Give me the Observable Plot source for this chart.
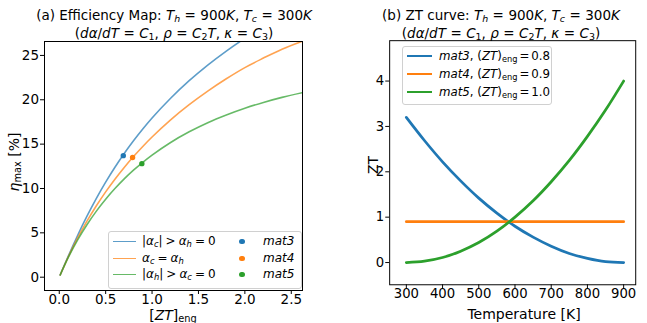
<!DOCTYPE html>
<html><head><meta charset="utf-8">
<script src="https://cdn.jsdelivr.net/npm/d3@7"></script>
<script src="https://cdn.jsdelivr.net/npm/@observablehq/plot@0.6"></script>
<style>
body{margin:0;background:#fff;}
#wrap{position:relative;width:647px;height:323px;overflow:hidden;font-family:"DejaVu Sans",sans-serif;color:#000;}
#wrap svg{position:absolute;left:0;top:0;}
.t{position:absolute;white-space:nowrap;font-size:13.5px;line-height:14px;}
.lab{font-size:14px;}
.c{transform:translateX(-50%);}
.rot{transform:translate(-50%,-50%) rotate(-90deg);}
.s{font-size:70%;vertical-align:-0.25em;line-height:0;}
.leg{position:absolute;border:1px solid #d0d0d0;border-radius:3px;background:rgba(255,255,255,0.8);font-size:12px;}
.row{position:absolute;white-space:nowrap;line-height:14px;}
.sw{position:absolute;height:0;}
.dt{position:absolute;width:5.4px;height:5.4px;border-radius:50%;}
</style>
</head><body>
<div id="wrap"></div>
<script>
// ---- Panel (a): efficiency map ----
const ztEng = [0.01,0.1,0.2,0.3,0.4,0.5,0.6,0.7,0.8,0.9,1.0,1.2,1.4,1.6,1.8,2.0,2.2,2.4,2.62];
const etaBlue = [0.25,2.45,4.76,6.90,8.88,10.71,12.39,13.94,15.37,16.70,17.94,20.17,22.15,23.91,25.49,26.93,28.25,29.46,30.70];
const etaOrange = [0.25,2.35,4.45,6.34,8.05,9.62,11.05,12.37,13.60,14.74,15.80,17.74,19.45,20.98,22.37,23.63,24.70,25.70,26.60];
const etaGreen = [0.25,2.28,4.23,5.94,7.45,8.79,9.99,11.08,12.06,12.95,13.76,15.19,16.39,17.42,18.29,19.05,19.70,20.27,20.80];
const caseNames = ["blue","orange","green"];
const matNames = ["mat3","mat4","mat5"];
const matZT = [0.69,0.79,0.89];
const matEta = [13.7,13.5,12.8];
const xTicksA = [0,0.5,1,1.5,2,2.5];
const yTicksA = [0,5,10,15,20,25];

// ---- Panel (b): ZT curves ----
const temps = [300,350,400,450,500,550,600,650,700,750,800,850,900];
const zt3 = [3.20,2.69,2.22,1.80,1.42,1.09,0.80,0.56,0.36,0.20,0.09,0.02,0.00];
const zt4 = [0.9,0.9,0.9,0.9,0.9,0.9,0.9,0.9,0.9,0.9,0.9,0.9,0.9];
const zt5 = [0.00,0.03,0.11,0.25,0.44,0.69,1.00,1.36,1.78,2.25,2.78,3.36,4.00];
const xTicksB = [300,400,500,600,700,800,900];
const yTicksB = [0,1,2,3,4];

const colors = ["#1f77b4","#ff7f0e","#2ca02c"];

const lineA = [];
[etaBlue, etaOrange, etaGreen].forEach((arr, k) => arr.forEach((v, i) => lineA.push({x: ztEng[i], y: v, k})));
const dotsA = matNames.map((m, i) => ({x: matZT[i], y: matEta[i], k: i}));
const lineB = [];
[zt3, zt4, zt5].forEach((arr, k) => arr.forEach((v, i) => lineB.push({x: temps[i], y: v, k})));

const st = {fontFamily: "DejaVu Sans", fontSize: "13.5px", background: "transparent", overflow: "visible", color: "#000"};

const plotA = Plot.plot({
  width: 647, height: 323,
  marginLeft: 44, marginRight: 345, marginTop: 41, marginBottom: 33,
  style: st,
  x: {domain: [-0.159, 2.621]},
  y: {domain: [-1.5, 26.57]},
  marks: [
    Plot.line(lineA, {x: "x", y: "y", z: "k", stroke: d => colors[d.k], strokeWidth: 1.6, strokeOpacity: 0.72, curve: "monotone-x", clip: true}),
    Plot.dot(dotsA, {x: "x", y: "y", fill: d => colors[d.k], r: 2.7, stroke: "none"}),
    Plot.frame({stroke: "#000", strokeWidth: 1}),
    Plot.axisX({ticks: xTicksA, tickFormat: d3.format(".1f"), tickSize: 4, tickPadding: 0, label: null}),
    Plot.axisY({ticks: yTicksA, tickFormat: d3.format("d"), tickSize: 4, tickPadding: 1.5, label: null})
  ]
});

const plotB = Plot.plot({
  width: 660, height: 323,
  marginLeft: 397, marginRight: 12, marginTop: 41, marginBottom: 33,
  style: st,
  x: {domain: [254, 933.3]},
  y: {domain: [-0.49, 4.89]},
  marks: [
    Plot.line(lineB, {x: "x", y: "y", z: "k", stroke: d => colors[d.k], strokeWidth: 2.8, curve: "monotone-x"}),
    Plot.frame({stroke: "#000", strokeWidth: 1}),
    Plot.axisX({ticks: xTicksB, tickFormat: d3.format("d"), tickSize: 4, tickPadding: 0, label: null}),
    Plot.axisY({ticks: yTicksB, tickFormat: d3.format("d"), tickSize: 4, tickPadding: 1.5, label: null})
  ]
});

const wrap = document.getElementById("wrap");
wrap.appendChild(plotA);
wrap.appendChild(plotB);

function addText(html, cls, x, y) {
  const d = document.createElement("div");
  d.className = "t " + cls;
  d.style.left = x + "px"; d.style.top = y + "px";
  d.innerHTML = html;
  wrap.appendChild(d);
  return d;
}
const sub = s => `<span class="s">${s}</span>`;
const subI = s => `<span class="s"><i>${s}</i></span>`;
const eq = "&#8196;=&#8196;";

addText(`(a) Efficiency Map: <i>T</i>${subI("h")}${eq}900<i>K</i>, <i>T</i>${subI("c")}${eq}300<i>K</i>`, "c", 174, 8);
addText(`(<i>dα</i>/<i>dT</i>${eq}<i>C</i>${sub("1")}, <i>ρ</i>${eq}<i>C</i>${sub("2")}<i>T</i>, <i>κ</i>${eq}<i>C</i>${sub("3")})`, "c", 174, 25.5);
addText(`(b) ZT curve: <i>T</i>${subI("h")}${eq}900<i>K</i>, <i>T</i>${subI("c")}${eq}300<i>K</i>`, "c", 501, 8);
addText(`(<i>dα</i>/<i>dT</i>${eq}<i>C</i>${sub("1")}, <i>ρ</i>${eq}<i>C</i>${sub("2")}<i>T</i>, <i>κ</i>${eq}<i>C</i>${sub("3")})`, "c", 501, 25.5);

addText(`[<i>ZT</i>]${sub("eng")}`, "c lab", 173, 307.5);
addText(`Temperature [K]`, "c lab", 524, 306.5);
addText(`<i>η</i>${sub("max")} [%]`, "rot lab", 14, 162);
addText(`ZT`, "rot lab", 372.5, 165);

// legends
function legend(x, y, w, h) {
  const d = document.createElement("div");
  d.className = "leg";
  d.style.left = x + "px"; d.style.top = y + "px";
  d.style.width = w + "px"; d.style.height = h + "px";
  wrap.appendChild(d);
  return d;
}
const eqL = "&#8197;=&#8197;";
const legA = legend(108, 231, 192, 56);
const labA = [`|<i>α</i>${subI("c")}|&#8197;&gt;&#8197;<i>α</i>${subI("h")}${eqL}0`, `<i>α</i>${subI("c")}${eqL}<i>α</i>${subI("h")}`, `|<i>α</i>${subI("h")}|&#8197;&gt;&#8197;<i>α</i>${subI("c")}${eqL}0`];
const rowYA = [9.5, 26.5, 42.5];
caseNames.forEach((c, i) => {
  const s = document.createElement("div");
  s.className = "sw";
  s.style.left = "3.5px"; s.style.width = "23px"; s.style.top = (rowYA[i] - 0.8) + "px";
  s.style.borderTop = `1.6px solid ${colors[i]}`; s.style.opacity = 0.72;
  legA.appendChild(s);
  const t = document.createElement("div");
  t.className = "row"; t.style.left = "33px"; t.style.top = (rowYA[i] - 7.5) + "px";
  t.innerHTML = labA[i];
  legA.appendChild(t);
  const dd = document.createElement("div");
  dd.className = "dt"; dd.style.background = colors[i];
  dd.style.left = (133 - 2.7) + "px"; dd.style.top = (rowYA[i] - 2.7) + "px";
  legA.appendChild(dd);
  const m = document.createElement("div");
  m.className = "row"; m.style.left = "154px"; m.style.top = (rowYA[i] - 7.5) + "px";
  m.innerHTML = `<i>${matNames[i]}</i>`;
  legA.appendChild(m);
});

const legB = legend(402, 46, 148, 57);
legB.style.fontSize = "11.8px";
const zteng = ["0.8","0.9","1.0"];
const rowYB = [9.5, 27.5, 45.5];
matNames.forEach((mn, i) => {
  const s = document.createElement("div");
  s.className = "sw";
  s.style.left = "3.5px"; s.style.width = "25px"; s.style.top = (rowYB[i] - 1.4) + "px";
  s.style.borderTop = `2.8px solid ${colors[i]}`;
  legB.appendChild(s);
  const t = document.createElement("div");
  t.className = "row"; t.style.left = "36px"; t.style.top = (rowYB[i] - 7.5) + "px";
  t.innerHTML = `<i>${mn}</i>, (<i>ZT</i>)${sub("eng")}&#8198;=&#8198;${zteng[i]}`;
  legB.appendChild(t);
});
</script>
</body></html>
